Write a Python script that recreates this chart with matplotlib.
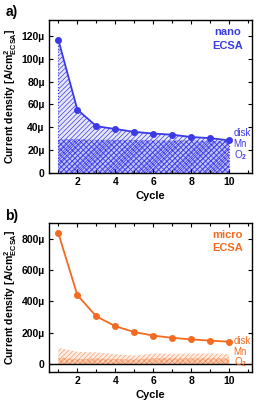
import numpy as np
import matplotlib
matplotlib.use('Agg')
import matplotlib.pyplot as plt

plt.rcParams['font.family'] = ['Liberation Sans', 'DejaVu Sans']
plt.rcParams['font.weight'] = 'bold'
plt.rcParams['mathtext.fontset'] = 'custom'
plt.rcParams['mathtext.bf'] = 'Liberation Sans:bold'
plt.rcParams['mathtext.rm'] = 'Liberation Sans:bold'
plt.rcParams['mathtext.default'] = 'bf'
plt.rcParams['hatch.linewidth'] = 0.5

cycles = [1, 2, 3, 4, 5, 6, 7, 8, 9, 10]
nano = [116.5, 55.5, 41, 38.5, 36, 34.5, 33.5, 31.5, 30.5, 28.5]
nano_disk = [29.5, 29.5, 29, 29, 29, 28.5, 28.5, 28.5, 28, 28]
micro = [835, 440, 305, 242, 205, 182, 168, 158, 150, 143]
micro_disk = [104, 79, 75, 64, 55, 68, 66, 68, 68, 64]
micro_disk_low = [42, 32, 36, 33, 30, 38, 38, 38, 38, 37]

blue = '#3a3ae6'
orange = '#f26b21'

fig = plt.figure(figsize=(2.6, 4.07), dpi=100)
ax1 = fig.add_axes([0.188, 0.575, 0.781, 0.376])
ax2 = fig.add_axes([0.188, 0.086, 0.781, 0.366])

def style(ax):
    ax.set_xlim(0.5, 11.2)
    ax.set_xticks([2, 4, 6, 8, 10])
    ax.set_xticks([1, 3, 5, 7, 9, 11], minor=True)
    ax.tick_params(direction='in', which='both', top=True, right=True, labelsize=7.5, pad=3)
    ax.tick_params(which='major', length=3, width=0.8)
    ax.tick_params(which='minor', length=2, width=0.8)
    for s in ax.spines.values():
        s.set_linewidth(1.0)
    ax.set_xlabel('Cycle', fontsize=8, fontweight='bold', labelpad=3)
    ax.set_ylabel(r'Current density [A/cm$^2_{\mathrm{ECSA}}$]', fontsize=7.6, fontweight='bold', labelpad=2)
    for lab in ax.get_xticklabels() + ax.get_yticklabels():
        lab.set_fontweight('bold')

# a) nano
x = np.array(cycles)
ax1.fill_between(x, 0, nano, facecolor=blue, alpha=0.12, linewidth=0)
ax1.fill_between(x, 0, nano, facecolor='none', edgecolor=blue, hatch='///////', linewidth=0)
ax1.fill_between(x, 0, nano_disk, facecolor=blue, alpha=0.2, linewidth=0)
ax1.fill_between(x, 0, nano_disk, facecolor='none', edgecolor=blue, hatch='xxxxxx', linewidth=0)
ax1.plot(x, nano, '-o', color=blue, markersize=4, linewidth=1.3)
ax1.vlines([1, 10], 0, [nano[0], nano[-1]], colors=blue, linestyles=':', linewidth=0.8)
ax1.set_ylim(0, 134)
ax1.set_yticks([0, 20, 40, 60, 80, 100, 120])
ax1.set_yticklabels(['0', '20µ', '40µ', '60µ', '80µ', '100µ', '120µ'])
style(ax1)
ax1.text(0.88, 0.92, 'nano', color=blue, fontsize=8, fontweight='bold', ha='center', va='center', transform=ax1.transAxes)
ax1.text(0.88, 0.83, 'ECSA', color=blue, fontsize=8, fontweight='bold', ha='center', va='center', transform=ax1.transAxes)
ax1.text(0.995, 0.262, 'disk', color=blue, fontsize=7, fontweight='normal', ha='right', va='center', transform=ax1.transAxes)
ax1.text(0.975, 0.19, 'Mn', color=blue, fontsize=7, fontweight='normal', ha='right', va='center', transform=ax1.transAxes)
ax1.text(0.975, 0.115, r'O$_2$', color=blue, fontsize=7, fontweight='normal', ha='right', va='center', transform=ax1.transAxes)
fig.text(0.02, 0.97, 'a)', fontsize=10, fontweight='bold', va='center')

# b) micro
ax2.fill_between(x, 0, micro_disk, facecolor=orange, alpha=0.12, linewidth=0)
ax2.fill_between(x, 0, micro_disk, facecolor='none', edgecolor=orange, hatch='///////', linewidth=0, alpha=0.6)
ax2.fill_between(x, 0, micro_disk_low, facecolor=orange, alpha=0.15, linewidth=0)
ax2.fill_between(x, 0, micro_disk_low, facecolor='none', edgecolor=orange, hatch='xxxxxx', linewidth=0, alpha=0.6)
ax2.axhline(0, color='black', linewidth=1.0)
ax2.plot(x, micro, '-o', color=orange, markersize=4, linewidth=1.3)
ax2.set_ylim(-50, 900)
ax2.set_yticks([0, 200, 400, 600, 800])
ax2.set_yticklabels(['0', '200µ', '400µ', '600µ', '800µ'])
style(ax2)
ax2.text(0.88, 0.918, 'micro', color=orange, fontsize=8, fontweight='bold', ha='center', va='center', transform=ax2.transAxes)
ax2.text(0.88, 0.83, 'ECSA', color=orange, fontsize=8, fontweight='bold', ha='center', va='center', transform=ax2.transAxes)
ax2.text(0.995, 0.21, 'disk', color=orange, fontsize=7, fontweight='normal', ha='right', va='center', transform=ax2.transAxes)
ax2.text(0.975, 0.135, 'Mn', color=orange, fontsize=7, fontweight='normal', ha='right', va='center', transform=ax2.transAxes)
ax2.text(0.975, 0.065, r'O$_2$', color=orange, fontsize=7, fontweight='normal', ha='right', va='center', transform=ax2.transAxes)
fig.text(0.02, 0.47, 'b)', fontsize=10, fontweight='bold', va='center')

fig.savefig('out.png', dpi=100)
